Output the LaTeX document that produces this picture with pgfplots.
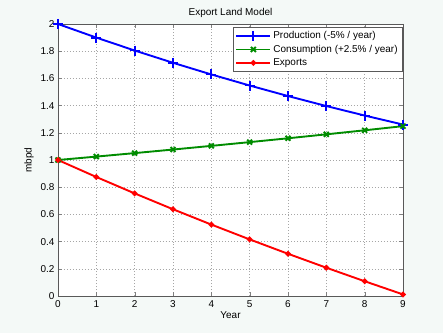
\documentclass[border=0pt]{standalone}
\usepackage{pgfplots}
\pgfplotsset{compat=1.18}
\usepackage{fontspec}
\setmainfont{Liberation Sans}
\definecolor{bgc}{RGB}{244,249,247}
\definecolor{mgreen}{RGB}{0,140,0}
\begin{document}
\begin{tikzpicture}
\fill[bgc] (-58bp,-37bp) rectangle (385bp,296bp);
\useasboundingbox (-58bp,-37bp) rectangle (385bp,296bp);
\begin{axis}[
  at={(0,0)}, anchor=origin,
  scale only axis, width=345bp, height=272bp,
  xmin=0, xmax=9, ymin=0, ymax=2,
  xtick={0,...,9}, ytick={0,0.2,...,2},
  yticklabels={0,0.2,0.4,0.6,0.8,1,1.2,1.4,1.6,1.8,2},
  scaled y ticks=false,
  tick align=inside, tick pos=both,
  major tick length=4bp,
  grid=major, grid style={dash pattern=on 0.7pt off 2.3pt, gray!70, line width=0.5pt},
  axis line style={gray!70!black, line width=0.7pt},
  axis background/.style={fill=white},
  every tick label/.style={font=\fontsize{10}{12}\selectfont},
  /pgf/number format/assume math mode=true,
  xticklabel style={yshift=-1bp},
  title={Export Land Model},
  title style={font=\fontsize{10}{12}\selectfont, yshift=-3bp},
  xlabel={Year}, ylabel={mbpd},
  label style={font=\fontsize{10}{12}\selectfont},
  xlabel style={yshift=3bp},
  ylabel style={yshift=0bp},
  legend style={font=\fontsize{10}{12}\selectfont, draw=gray!70!black, fill=white, at={(0.998,0.99)}, anchor=north east, inner sep=2.5pt, row sep=1pt},
  legend cell align=left,
  legend image code/.code={%
    \draw[mark repeat=2,mark phase=2,#1, line width=1.9pt] plot coordinates {(0cm,0cm) (0.6cm,0cm) (1.2cm,0cm)};},
]
\addplot[blue, line width=1.9pt, mark=+, mark size=5bp] coordinates {
(0,2) (1,1.9) (2,1.805) (3,1.7148) (4,1.629) (5,1.5476) (6,1.4702) (7,1.3967) (8,1.3269) (9,1.2605)};
\addlegendentry{Production (-5\% / year)}
\addplot[mgreen, line width=1.9pt, mark=x, mark size=3.5bp] coordinates {
(0,1) (1,1.025) (2,1.0506) (3,1.0769) (4,1.1038) (5,1.1314) (6,1.1597) (7,1.1887) (8,1.2184) (9,1.2489)};
\addlegendentry{Consumption (+2.5\% / year)}
\addplot[red, line width=1.9pt, mark=*, mark size=1.8bp] coordinates {
(0,1) (1,0.875) (2,0.7544) (3,0.6379) (4,0.5252) (5,0.4162) (6,0.3105) (7,0.208) (8,0.1085) (9,0.0116)};
\addlegendentry{Exports}
\end{axis}
\end{tikzpicture}
\end{document}
